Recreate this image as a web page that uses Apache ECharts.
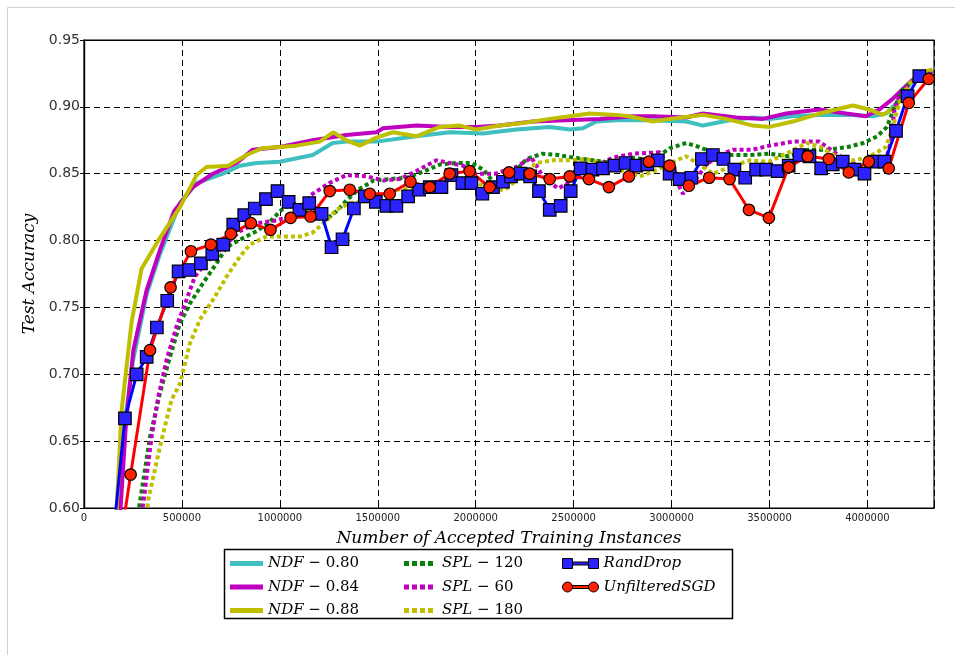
<!DOCTYPE html>
<html><head><meta charset="utf-8">
<script src="https://cdn.jsdelivr.net/npm/echarts@6/dist/echarts.min.js"></script>
<style>html,body{margin:0;padding:0;background:#fff}#c{width:955px;height:655px}</style>
</head><body><div id="c"></div>
<script>
// ---- tick definitions ----
const xTickStep = 500000;
const xMin = 0, xMax = 4340000;
const yTickStep = 0.05;
const yMin = 0.60, yMax = 0.95;

// ---- series names ----
const seriesNames = ['NDF-0.80','NDF-0.84','NDF-0.88','SPL-120','SPL-60','SPL-180','RandDrop','UnfilteredSGD'];

// ---- data: [accepted training instances, test accuracy] ----
const ndf80 = [[160000,0.55],[209000,0.665],[250000,0.71],[320000,0.76],[388000,0.79],[490000,0.828],[575000,0.843],[709000,0.850],[796000,0.856],[881000,0.858],[1000000,0.859],[1068000,0.861],[1168000,0.864],[1270000,0.873],[1340000,0.874],[1493000,0.874],[1697000,0.878],[1867000,0.881],[2037000,0.880],[2207000,0.883],[2378000,0.885],[2480000,0.883],[2548000,0.884],[2616000,0.889],[2718000,0.890],[2888000,0.890],[3075000,0.889],[3160000,0.886],[3296000,0.890],[3415000,0.892],[3500000,0.891],[3619000,0.893],[3755000,0.894],[3925000,0.894],[4027000,0.893],[4095000,0.895],[4163000,0.905],[4230000,0.920],[4332000,0.926]];
const ndf84 = [[165000,0.55],[215000,0.665],[252000,0.718],[320000,0.763],[388000,0.793],[460000,0.822],[556000,0.840],[658000,0.850],[779000,0.858],[862000,0.868],[1000000,0.870],[1168000,0.875],[1340000,0.879],[1493000,0.881],[1527000,0.884],[1697000,0.886],[1867000,0.885],[2004000,0.885],[2122000,0.886],[2292000,0.889],[2463000,0.890],[2633000,0.891],[2803000,0.893],[2905000,0.893],[3075000,0.892],[3160000,0.895],[3330000,0.892],[3466000,0.891],[3585000,0.895],[3755000,0.898],[3891000,0.895],[3993000,0.893],[4061000,0.898],[4129000,0.906],[4214000,0.918],[4332000,0.927]];
const ndf88 = [[150000,0.55],[192000,0.673],[243000,0.739],[294000,0.779],[379000,0.800],[490000,0.825],[575000,0.849],[626000,0.855],[736000,0.856],[830000,0.864],[907000,0.869],[1000000,0.870],[1085000,0.871],[1204000,0.874],[1272000,0.881],[1340000,0.875],[1408000,0.871],[1493000,0.877],[1578000,0.881],[1697000,0.878],[1816000,0.885],[1918000,0.886],[2004000,0.883],[2122000,0.886],[2241000,0.888],[2378000,0.891],[2480000,0.893],[2582000,0.895],[2718000,0.894],[2786000,0.893],[2905000,0.889],[2990000,0.891],[3160000,0.894],[3279000,0.891],[3415000,0.886],[3500000,0.885],[3619000,0.889],[3755000,0.895],[3925000,0.901],[4010000,0.898],[4078000,0.894],[4146000,0.900],[4214000,0.918],[4265000,0.925],[4332000,0.928]];
const spl120 = [[265000,0.585],[337000,0.653],[388000,0.686],[439000,0.713],[490000,0.738],[541000,0.753],[607000,0.768],[677000,0.783],[728000,0.795],[813000,0.802],[881000,0.807],[949000,0.814],[1009000,0.823],[1068000,0.828],[1150000,0.822],[1230000,0.815],[1290000,0.822],[1340000,0.830],[1400000,0.838],[1480000,0.845],[1560000,0.846],[1650000,0.847],[1740000,0.852],[1820000,0.857],[1900000,0.858],[1980000,0.858],[2040000,0.853],[2110000,0.840],[2190000,0.850],[2260000,0.861],[2340000,0.865],[2420000,0.864],[2500000,0.862],[2600000,0.860],[2700000,0.858],[2800000,0.862],[2900000,0.860],[2990000,0.869],[3075000,0.873],[3140000,0.870],[3210000,0.866],[3300000,0.864],[3400000,0.864],[3500000,0.865],[3600000,0.863],[3700000,0.868],[3800000,0.868],[3900000,0.870],[3980000,0.873],[4050000,0.878],[4100000,0.885],[4130000,0.897],[4180000,0.913],[4250000,0.922],[4320000,0.925]];
const spl60 = [[290000,0.59],[311000,0.613],[345000,0.653],[379000,0.683],[422000,0.711],[473000,0.736],[524000,0.756],[566000,0.773],[620000,0.783],[694000,0.793],[796000,0.807],[881000,0.813],[983000,0.815],[1068000,0.819],[1168000,0.835],[1253000,0.843],[1340000,0.849],[1442000,0.848],[1527000,0.845],[1612000,0.846],[1697000,0.852],[1799000,0.860],[1867000,0.858],[1935000,0.856],[2000000,0.850],[2100000,0.850],[2207000,0.855],[2285000,0.862],[2343000,0.848],[2420000,0.839],[2500000,0.845],[2600000,0.855],[2700000,0.862],[2803000,0.865],[2939000,0.866],[3024000,0.845],[3058000,0.835],[3120000,0.845],[3180000,0.857],[3245000,0.864],[3313000,0.868],[3415000,0.868],[3500000,0.871],[3619000,0.874],[3755000,0.874],[3891000,0.860],[3976000,0.855],[4095000,0.860],[4121000,0.875],[4138000,0.898],[4163000,0.908],[4230000,0.920],[4320000,0.925]];
const spl180 = [[318000,0.59],[328000,0.606],[388000,0.646],[447000,0.681],[490000,0.693],[541000,0.723],[592000,0.741],[660000,0.756],[728000,0.773],[796000,0.788],[847000,0.797],[932000,0.803],[1017000,0.803],[1102000,0.803],[1168000,0.806],[1238000,0.815],[1289000,0.823],[1357000,0.828],[1425000,0.829],[1500000,0.833],[1600000,0.838],[1700000,0.840],[1800000,0.843],[1900000,0.846],[2000000,0.843],[2100000,0.838],[2150000,0.838],[2230000,0.848],[2310000,0.858],[2395000,0.860],[2480000,0.860],[2565000,0.861],[2650000,0.858],[2735000,0.853],[2837000,0.848],[2930000,0.853],[3024000,0.860],[3075000,0.863],[3140000,0.857],[3211000,0.850],[3300000,0.855],[3400000,0.860],[3497000,0.859],[3600000,0.866],[3690000,0.873],[3760000,0.870],[3840000,0.863],[3925000,0.860],[4000000,0.862],[4095000,0.870],[4130000,0.885],[4163000,0.903],[4220000,0.918],[4300000,0.925]];
const randDrop = [[150000,0.58],[209000,0.667],[269000,0.700],[320000,0.713],[372000,0.735],[425000,0.755],[483000,0.777],[537000,0.778],[597000,0.783],[655000,0.790],[711000,0.797],[762000,0.812],[818000,0.819],[872000,0.824],[929000,0.831],[988000,0.837],[1045000,0.829],[1100000,0.823],[1150000,0.828],[1213000,0.820],[1264000,0.795],[1320000,0.801],[1378000,0.824],[1434000,0.833],[1490000,0.829],[1544000,0.826],[1595000,0.826],[1655000,0.833],[1711000,0.838],[1765000,0.840],[1825000,0.840],[1876000,0.849],[1932000,0.843],[1978000,0.843],[2034000,0.835],[2088000,0.840],[2139000,0.844],[2180000,0.848],[2230000,0.850],[2278000,0.848],[2323000,0.837],[2378000,0.823],[2434000,0.826],[2485000,0.837],[2536000,0.854],[2596000,0.853],[2650000,0.854],[2709000,0.856],[2765000,0.858],[2820000,0.856],[2876000,0.857],[2930000,0.860],[2990000,0.850],[3041000,0.846],[3101000,0.847],[3155000,0.861],[3211000,0.864],[3265000,0.861],[3321000,0.853],[3376000,0.847],[3432000,0.853],[3483000,0.853],[3542000,0.852],[3598000,0.856],[3653000,0.864],[3704000,0.863],[3764000,0.854],[3823000,0.857],[3874000,0.859],[3934000,0.853],[3985000,0.850],[4036000,0.859],[4087000,0.859],[4146000,0.882],[4205000,0.908],[4265000,0.923]];
const unfilteredSGD = [[190000,0.578],[238000,0.625],[337000,0.718],[442000,0.765],[546000,0.792],[648000,0.797],[750000,0.805],[852000,0.813],[952000,0.808],[1055000,0.817],[1157000,0.818],[1255000,0.837],[1357000,0.838],[1459000,0.835],[1561000,0.835],[1667000,0.844],[1765000,0.840],[1867000,0.850],[1969000,0.852],[2071000,0.840],[2170000,0.851],[2276000,0.850],[2378000,0.846],[2480000,0.848],[2578000,0.846],[2680000,0.840],[2782000,0.848],[2884000,0.859],[2990000,0.856],[3088000,0.841],[3192000,0.847],[3296000,0.846],[3395000,0.823],[3497000,0.817],[3598000,0.855],[3695000,0.863],[3803000,0.861],[3905000,0.851],[4007000,0.859],[4109000,0.854],[4211000,0.903],[4313000,0.921]];

// ---- styles ----
const C = {cyan:'#3fbfbf', mag:'#bf00bf', oli:'#bfbf00', green:'#0a7f0a', blue:'#0000ff', blueFill:'#2a22ff', red:'#ff0000', redFill:'#ff2200'};
const serif = 'DejaVu Serif';

function solid(name, data, color){
  return {type:'line', name, data, symbol:'none', lineStyle:{color, width:4}, itemStyle:{color}, emphasis:{disabled:true}};
}
function dotted(name, data, color){
  return {type:'line', name, data, symbol:'none', lineStyle:{color, width:4, type:[4,3], cap:'butt'}, itemStyle:{color}, emphasis:{disabled:true}};
}
function marked(name, data, lineColor, fill, symbol, size){
  return {type:'line', name, data, symbol, symbolSize:size, showSymbol:true,
    lineStyle:{color:lineColor, width:3}, itemStyle:{color:fill, borderColor:'#000', borderWidth:1.2}, emphasis:{disabled:true}};
}

const lineIcon = 'path://M0,0h33v5h-33z';
const dotIcon = 'path://M0,0h5v5h-5zM8,0h5v5h-5zM16,0h5v5h-5zM24,0h5v5h-5zM29,0h4v0.01h-4z';
const sqIcon = 'path://M0,0h10v10h-10zM10,3.5h16v3h-16zM26,0h10v10h-10z';
const ciIcon = 'path://M0,5a5,5 0 1,0 10,0a5,5 0 1,0 -10,0zM10,3.5h16v3h-16zM26,5a5,5 0 1,0 10,0a5,5 0 1,0 -10,0z';

const legText = {fontFamily:serif, fontStyle:'italic', fontSize:15, color:'#000',
  rich:{n:{fontFamily:serif, fontStyle:'normal', fontSize:15, color:'#000'}}};
function legFmt(name){
  const m = name.match(/^(.*)-(.*)$/);
  return m ? m[1] + ' − {n|' + m[2] + '}' : name;
}
function legend(left, items, w){
  return {left, top:556, orient:'vertical', padding:0, itemWidth:w, itemHeight:14, itemGap:8.5,
    selectedMode:false, textStyle:legText, formatter:legFmt, data:items};
}

const chart = echarts.init(document.getElementById('c'), null, {renderer:'canvas'});
chart.setOption({
  animation:false,
  backgroundColor:'#fff',
  grid:{left:84, top:40, right:21, bottom:147, show:true, borderColor:'#000', borderWidth:1.2},
  xAxis:[{
    type:'value', min:xMin, max:xMax, interval:xTickStep,
    name:'Number of Accepted Training Instances', nameLocation:'middle', nameGap:22,
    nameTextStyle:{fontFamily:serif, fontStyle:'italic', fontSize:17, color:'#000'},
    axisLine:{show:true, lineStyle:{color:'#000', width:1.2}},
    axisTick:{show:true, inside:true, length:4, lineStyle:{color:'#000'}},
    axisLabel:{fontFamily:'DejaVu Sans', fontSize:10, color:'#222', margin:5,
      formatter:v => (v % xTickStep === 0) ? String(v) : ''},
    splitLine:{show:true, lineStyle:{color:'#000', type:[6,4], width:1}}
  },{
    type:'value', position:'top', min:xMin, max:xMax, interval:xTickStep,
    axisLine:{show:true, lineStyle:{color:'#000', width:1.2}},
    axisTick:{show:true, inside:true, length:4, lineStyle:{color:'#000'}},
    axisLabel:{show:false}, splitLine:{show:false}
  }],
  yAxis:[{
    type:'value', min:yMin, max:yMax, interval:yTickStep,
    name:'Test Accuracy', nameLocation:'middle', nameGap:42,
    nameTextStyle:{fontFamily:serif, fontStyle:'italic', fontSize:17, color:'#000'},
    axisLine:{show:true, lineStyle:{color:'#000', width:1.2}},
    axisTick:{show:true, inside:true, length:4, lineStyle:{color:'#000'}},
    axisLabel:{fontFamily:'DejaVu Sans', fontSize:14, color:'#333', margin:4, formatter:v => v.toFixed(2)},
    splitLine:{show:true, lineStyle:{color:'#000', type:[6,4], width:1}}
  },{
    type:'value', position:'right', min:yMin, max:yMax, interval:yTickStep,
    axisLine:{show:true, lineStyle:{color:'#000', width:1.2}},
    axisTick:{show:true, inside:true, length:4, lineStyle:{color:'#000'}},
    axisLabel:{show:false}, splitLine:{show:false}
  }],
  legend:[
    legend(230, [
      {name:seriesNames[0], icon:lineIcon, itemStyle:{color:C.cyan, borderWidth:0}},
      {name:seriesNames[1], icon:lineIcon, itemStyle:{color:C.mag, borderWidth:0}},
      {name:seriesNames[2], icon:lineIcon, itemStyle:{color:C.oli, borderWidth:0}}], 33),
    legend(404, [
      {name:seriesNames[3], icon:dotIcon, itemStyle:{color:C.green, borderWidth:0}},
      {name:seriesNames[4], icon:dotIcon, itemStyle:{color:C.mag, borderWidth:0}},
      {name:seriesNames[5], icon:dotIcon, itemStyle:{color:C.oli, borderWidth:0}}], 33),
    legend(562, [
      {name:seriesNames[6], icon:sqIcon, itemStyle:{color:C.blueFill, borderColor:'#000', borderWidth:1}},
      {name:seriesNames[7], icon:ciIcon, itemStyle:{color:C.redFill, borderColor:'#000', borderWidth:1}}], 36)
  ],
  graphic:[
    {type:'rect', silent:true, shape:{x:7.5, y:7.5, width:1000, height:1000}, style:{fill:'none', stroke:'#d0d0d0', lineWidth:1}, z:-10},
    {type:'rect', silent:true, shape:{x:224.5, y:549.5, width:508, height:69}, style:{fill:'none', stroke:'#000', lineWidth:1.5}}
  ],
  series:[
    solid(seriesNames[0], ndf80, C.cyan),
    solid(seriesNames[1], ndf84, C.mag),
    solid(seriesNames[2], ndf88, C.oli),
    dotted(seriesNames[3], spl120, C.green),
    dotted(seriesNames[4], spl60, C.mag),
    dotted(seriesNames[5], spl180, C.oli),
    marked(seriesNames[6], randDrop, C.blue, C.blueFill, 'rect', 12.5),
    marked(seriesNames[7], unfilteredSGD, C.red, C.redFill, 'circle', 11.5)
  ]
});
</script>
</body></html>
